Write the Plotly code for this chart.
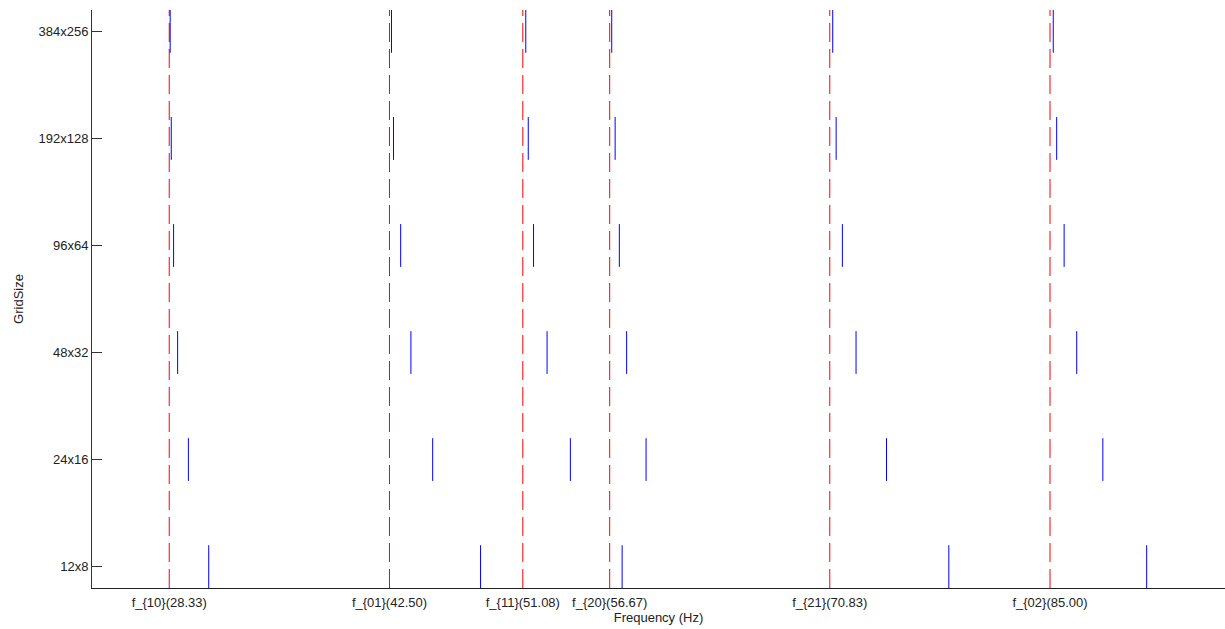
import plotly.graph_objects as go

grid_labels = ["12x8", "24x16", "48x32", "96x64", "192x128", "384x256"]
mode_labels = ["f_{10}(28.33)", "f_{01}(42.50)", "f_{11}(51.08)",
               "f_{20}(56.67)", "f_{21}(70.83)", "f_{02}(85.00)"]
mode_freqs = [28.33, 42.50, 51.08, 56.67, 70.83, 85.00]

freq_12x8 = [30.87, 48.36, 57.47, 78.49, 91.22]
freq_24x16 = [29.56, 45.28, 54.14, 59.01, 74.48, 88.40]
freq_48x32 = [28.87, 43.88, 52.64, 57.76, 72.52, 86.72]
freq_96x64 = [28.61, 43.22, 51.77, 57.29, 71.64, 85.91]
freq_192x128 = [28.46, 42.76, 51.43, 57.02, 71.24, 85.43]
freq_384x256 = [28.39, 42.63, 51.27, 56.80, 71.02, 85.21]

grid_freqs = [freq_12x8, freq_24x16, freq_48x32, freq_96x64, freq_192x128, freq_384x256]

Y_LO, Y_HI = 0.8, 6.2
HALF = 0.2

# red dashed reference lines
rx, ry = [], []
for f in mode_freqs:
    rx += [f, f, None]
    ry += [Y_LO, Y_HI, None]

# blue computed frequency markers
bx, by = [], []
for i, freqs in enumerate(grid_freqs):
    yv = i + 1
    for f in freqs:
        bx += [f, f, None]
        by += [yv - HALF, yv + HALF, None]

fig = go.Figure()
fig.add_trace(go.Scatter(x=rx, y=ry, mode="lines",
                         line=dict(color="#ff0000", width=1, dash="19px,7px"),
                         hoverinfo="skip", showlegend=False))
fig.add_trace(go.Scatter(x=bx, y=by, mode="lines",
                         line=dict(color="#0000ff", width=1),
                         hoverinfo="skip", showlegend=False))

font = dict(family="Liberation Sans, Arial, sans-serif", size=13, color="#222222")

fig.update_layout(
    width=1225, height=629,
    margin=dict(l=92, r=0, t=10, b=41),
    paper_bgcolor="white", plot_bgcolor="white",
    font=font,
    xaxis=dict(
        range=[23.36, 96.26],
        tickmode="array", tickvals=mode_freqs, ticktext=mode_labels,
        showgrid=False, zeroline=False,
        showline=True, linecolor="#222222", linewidth=1,
        ticks="", tickfont=font, ticklabelstandoff=2,
        title=dict(text="Frequency (Hz)", font=font, standoff=0),
    ),
    yaxis=dict(
        range=[Y_LO, Y_HI],
        tickmode="array", tickvals=[1, 2, 3, 4, 5, 6], ticktext=grid_labels,
        showgrid=False, zeroline=False,
        showline=True, linecolor="#333333", linewidth=1,
        ticks="inside", ticklen=10, tickcolor="#333333", tickwidth=1,
        tickfont=font,
        title=dict(text="GridSize", font=font, standoff=11),
    ),
)

fig.write_html("out.html",
               config={"displayModeBar": False},
               post_script="document.body.style.margin='0';document.body.style.padding='0';")
